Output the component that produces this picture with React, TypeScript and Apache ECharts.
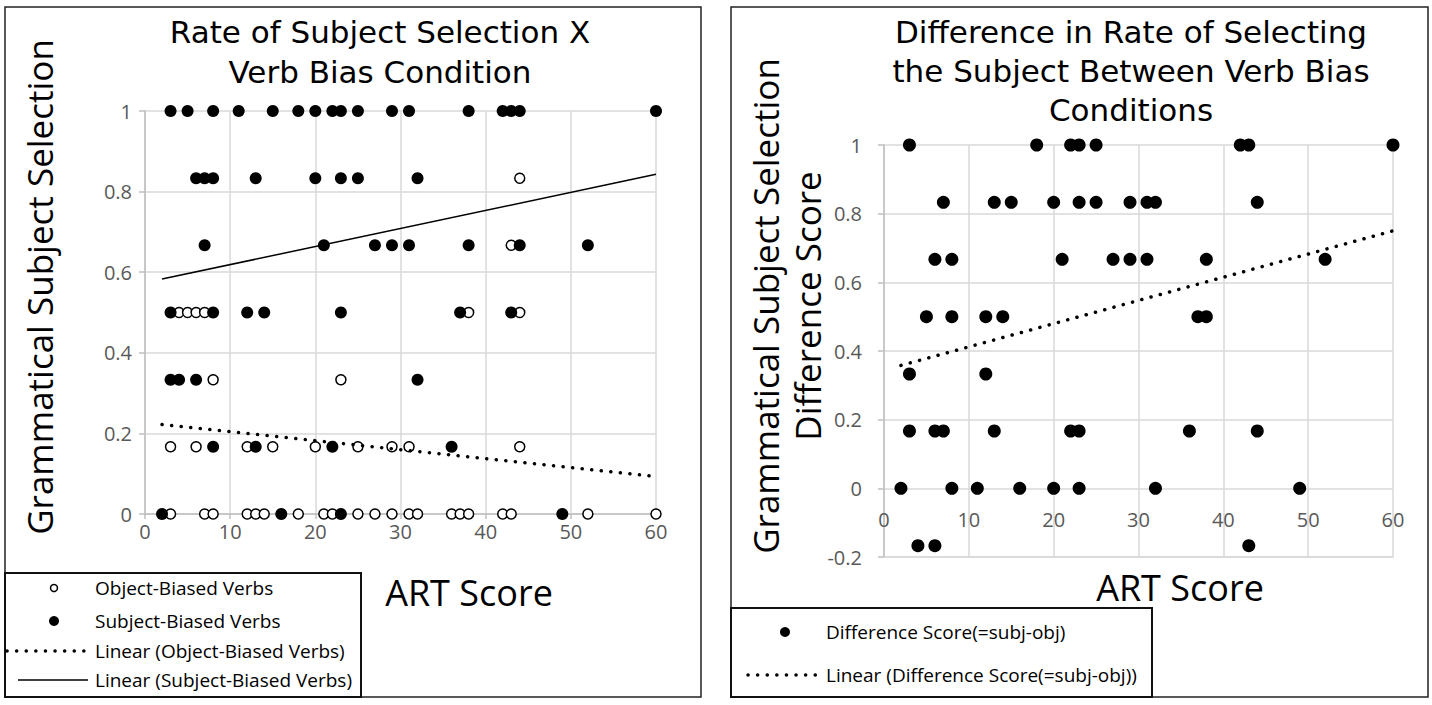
import React, { useEffect, useRef } from "react";
import * as echarts from "echarts";

const FONT = '"Open Sans", "Noto Sans", sans-serif';
const TITLE_FONT = '"DejaVu Sans", "Open Sans", sans-serif';

// ---- Data ----
const rateLevels = [1, 0.833, 0.667, 0.5, 0.333, 0.167, 0];
const subjectArtByLevel = [
  [3, 5, 8, 11, 15, 18, 20, 22, 23, 25, 29, 31, 38, 42, 43, 44, 60],
  [6, 7, 8, 13, 20, 23, 25, 32],
  [7, 21, 27, 29, 31, 38, 44, 52],
  [3, 8, 12, 14, 23, 37, 43],
  [3, 4, 6, 32],
  [8, 13, 22, 36],
  [2, 16, 23, 49],
];
const objectArtByLevel = [
  [],
  [44],
  [43],
  [4, 5, 6, 7, 38, 44],
  [8, 23],
  [3, 6, 12, 15, 20, 25, 29, 31, 44],
  [3, 7, 8, 12, 13, 14, 18, 21, 22, 25, 27, 29, 31, 32, 36, 37, 38, 42, 43, 52, 60],
];
const diffLevels = [1, 0.833, 0.667, 0.5, 0.333, 0.167, 0, -0.167];
const diffArtByLevel = [
  [3, 18, 22, 23, 25, 42, 43, 60],
  [7, 13, 15, 20, 23, 25, 29, 31, 32, 44],
  [6, 8, 21, 27, 29, 31, 38, 52],
  [5, 8, 12, 14, 37, 38],
  [3, 12],
  [3, 6, 7, 13, 22, 23, 36, 44],
  [2, 8, 11, 16, 20, 23, 32, 49],
  [4, 6, 43],
];
const trendArt = [2, 60];
const objectTrendRate = [0.222, 0.093];
const subjectTrendRate = [0.583, 0.843];
const diffTrendRate = [0.358, 0.75];

const xTicks = { min: 0, max: 60, interval: 10 };

const toPairs = (levels: number[], byLevel: number[][]) =>
  byLevel.flatMap((xs, i) => xs.map((x) => [x, levels[i]]));
const trendPairs = (ys: number[]) => trendArt.map((x, i) => [x, ys[i]]);

const NAMES = {
  obj: "Object-Biased Verbs",
  subj: "Subject-Biased Verbs",
  objLin: "Linear (Object-Biased Verbs)",
  subjLin: "Linear (Subject-Biased Verbs)",
  diff: "Difference Score(=subj-obj)",
  diffLin: "Linear (Difference Score(=subj-obj))",
};

const dotted = { color: "#000", width: 3.5, type: [0.1, 9.5], cap: "round" };

function txt(text: string, x: number, y: number, size: number, extra: any = {}) {
  return {
    type: "text",
    x,
    y,
    rotation: extra.rotation || 0,
    z: 10,
    style: {
      text,
      fontFamily: extra.font || FONT,
      fontSize: size,
      lineHeight: extra.lineHeight || Math.round(size * 1.2),
      fill: extra.fill || "#000",
      textAlign: extra.align || "center",
      align: extra.align || "center",
      textVerticalAlign: "middle",
      verticalAlign: "middle",
    },
  };
}

export default function App() {
  const ref = useRef<HTMLDivElement>(null);
  useEffect(() => {
    if (!ref.current) return;
    const chart = echarts.init(ref.current, undefined, { renderer: "svg" });
    const axisGray = "#bfbfbf";
    const gridGray = "#d9d9d9";
    const labelStyle = { fontFamily: FONT, fontSize: 20, color: "#595959" };

    const option: any = {
      animation: false,
      backgroundColor: "#fff",
      grid: [
        { left: 145, top: 111, width: 511, height: 403 },
        { left: 884, top: 145, width: 509, height: 412 },
      ],
      xAxis: [
        {
          gridIndex: 0,
          type: "value",
          ...xTicks,
          axisLine: { show: true, onZero: false, lineStyle: { color: axisGray, width: 1.5 } },
          axisTick: { show: true, length: 5, lineStyle: { color: axisGray, width: 1.5 } },
          splitLine: { show: true, lineStyle: { color: gridGray, width: 1.5 } },
          axisLabel: { ...labelStyle, margin: 7 },
        },
        {
          gridIndex: 1,
          type: "value",
          ...xTicks,
          axisLine: { show: true, onZero: false, lineStyle: { color: gridGray, width: 1.5 } },
          axisTick: { show: false },
          splitLine: { show: true, lineStyle: { color: gridGray, width: 1.5 } },
          // labels sit just below the zero line, as in the reference
          axisLabel: { ...labelStyle, margin: -48 },
        },
      ],
      yAxis: [
        {
          gridIndex: 0,
          type: "value",
          min: 0,
          max: 1,
          interval: 0.2,
          axisLine: { show: true, lineStyle: { color: axisGray, width: 1.5 } },
          axisTick: { show: true, length: 6, lineStyle: { color: axisGray, width: 1.5 } },
          splitLine: { show: true, lineStyle: { color: gridGray, width: 1.5 } },
          axisLabel: { ...labelStyle, margin: 13 },
        },
        {
          gridIndex: 1,
          type: "value",
          min: -0.2,
          max: 1,
          interval: 0.2,
          axisLine: { show: true, lineStyle: { color: axisGray, width: 1.5 } },
          axisTick: { show: true, length: 6, lineStyle: { color: axisGray, width: 1.5 } },
          splitLine: { show: true, lineStyle: { color: gridGray, width: 1.5 } },
          axisLabel: { ...labelStyle, margin: 22 },
        },
      ],
      series: [
        {
          name: NAMES.obj,
          type: "scatter",
          xAxisIndex: 0,
          yAxisIndex: 0,
          symbolSize: 10,
          itemStyle: { color: "#fff", borderColor: "#000", borderWidth: 1.5, opacity: 1 },
          data: toPairs(rateLevels, objectArtByLevel),
          z: 2,
        },
        {
          name: NAMES.subj,
          type: "scatter",
          xAxisIndex: 0,
          yAxisIndex: 0,
          symbolSize: 12,
          itemStyle: { color: "#000", opacity: 1 },
          data: toPairs(rateLevels, subjectArtByLevel),
          z: 3,
        },
        {
          name: NAMES.objLin,
          type: "line",
          xAxisIndex: 0,
          yAxisIndex: 0,
          symbol: "none",
          silent: true,
          lineStyle: dotted,
          data: trendPairs(objectTrendRate),
          z: 4,
        },
        {
          name: NAMES.subjLin,
          type: "line",
          xAxisIndex: 0,
          yAxisIndex: 0,
          symbol: "none",
          silent: true,
          lineStyle: { color: "#000", width: 1.5 },
          data: trendPairs(subjectTrendRate),
          z: 4,
        },
        {
          name: NAMES.diff,
          type: "scatter",
          xAxisIndex: 1,
          yAxisIndex: 1,
          symbolSize: 13,
          itemStyle: { color: "#000", opacity: 1 },
          data: toPairs(diffLevels, diffArtByLevel),
          z: 3,
        },
        {
          name: NAMES.diffLin,
          type: "line",
          xAxisIndex: 1,
          yAxisIndex: 1,
          symbol: "none",
          silent: true,
          lineStyle: dotted,
          data: trendPairs(diffTrendRate),
          z: 4,
        },
      ],
      graphic: [
        // panel borders
        { type: "rect", z: 0, shape: { x: 5, y: 7, width: 696, height: 690 }, style: { fill: "none", stroke: "#222", lineWidth: 1.5 } },
        { type: "rect", z: 0, shape: { x: 731, y: 7, width: 697, height: 690 }, style: { fill: "none", stroke: "#222", lineWidth: 1.5 } },
        // legend boxes
        { type: "rect", z: 5, shape: { x: 5, y: 573, width: 356, height: 124 }, style: { fill: "#fff", stroke: "#111", lineWidth: 2 } },
        { type: "rect", z: 5, shape: { x: 731, y: 608, width: 421, height: 89 }, style: { fill: "#fff", stroke: "#111", lineWidth: 2 } },
        // left legend items
        { type: "circle", z: 11, shape: { cx: 54, cy: 588, r: 3.5 }, style: { fill: "#fff", stroke: "#000", lineWidth: 1.5 } },
        { type: "circle", z: 11, shape: { cx: 54, cy: 621, r: 5 }, style: { fill: "#000" } },
        { type: "line", z: 11, shape: { x1: 7, y1: 651, x2: 88, y2: 651 }, style: { stroke: "#000", lineWidth: 3.5, lineDash: [0.1, 9.5], lineCap: "round" } },
        { type: "line", z: 11, shape: { x1: 18, y1: 680, x2: 88, y2: 680 }, style: { stroke: "#000", lineWidth: 1.5 } },
        txt(NAMES.obj, 95, 588, 19, { align: "left" }),
        txt(NAMES.subj, 95, 621, 19, { align: "left" }),
        txt(NAMES.objLin, 95, 651, 19, { align: "left" }),
        txt(NAMES.subjLin, 95, 680, 19, { align: "left" }),
        // right legend items
        { type: "circle", z: 11, shape: { cx: 785, cy: 632, r: 5 }, style: { fill: "#000" } },
        { type: "line", z: 11, shape: { x1: 748, y1: 675, x2: 821, y2: 675 }, style: { stroke: "#000", lineWidth: 3.5, lineDash: [0.1, 9.5], lineCap: "round" } },
        txt(NAMES.diff, 826, 632, 19, { align: "left" }),
        txt(NAMES.diffLin, 826, 675, 19, { align: "left" }),
        // titles
        txt("Rate of Subject Selection X\nVerb Bias Condition", 380, 52, 31, { lineHeight: 40, font: TITLE_FONT }),
        txt("Difference in Rate of Selecting\nthe Subject Between Verb Bias\nConditions", 1131, 71, 31, { lineHeight: 39, font: TITLE_FONT }),
        // axis names
        txt("ART Score", 469, 592, 36),
        txt("ART Score", 1180, 587, 36),
        txt("Grammatical Subject Selection", 39, 287, 35, { rotation: Math.PI / 2 }),
        txt("Grammatical Subject Selection\nDifference Score", 786, 306, 35, { rotation: Math.PI / 2, lineHeight: 42 }),
      ],
    };
    chart.setOption(option);
    return () => chart.dispose();
  }, []);
  return (
    <div
      ref={ref}
      style={{ position: "fixed", left: 0, top: 0, width: 1432, height: 705, background: "#fff" }}
    />
  );
}
